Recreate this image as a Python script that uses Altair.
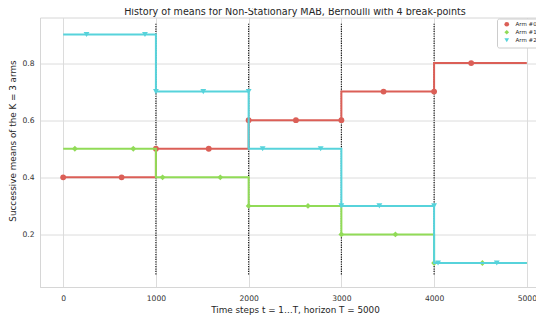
import altair as alt
import pandas as pd

# ---- data ----
arm_names = ["Arm #0", "Arm #1", "Arm #2"]
arm_colors = ["#db5f57", "#91db57", "#57d3db"]
arm_shapes = ["circle", "diamond", "triangle-down"]

step_starts = [0, 1000, 2000, 3000, 4000, 5000]
arm0_means = [0.4, 0.5, 0.6, 0.7, 0.8]
arm1_means = [0.5, 0.4, 0.3, 0.2, 0.1]
arm2_means = [0.9, 0.7, 0.5, 0.3, 0.1]

arm0_marker_t = [0, 630, 1000, 1570, 2000, 2510, 3000, 3455, 4000, 4400]
arm0_marker_mu = [0.4, 0.4, 0.5, 0.5, 0.6, 0.6, 0.6, 0.7, 0.7, 0.8]
arm1_marker_t = [126, 756, 1072, 1694, 2000, 2640, 3000, 3583, 4000, 4521]
arm1_marker_mu = [0.5, 0.5, 0.4, 0.4, 0.3, 0.3, 0.2, 0.2, 0.1, 0.1]
arm2_marker_t = [252, 882, 1000, 1511, 2000, 2151, 2777, 3000, 3410, 4000, 4043, 4676]
arm2_marker_mu = [0.9, 0.9, 0.7, 0.7, 0.7, 0.5, 0.5, 0.3, 0.3, 0.3, 0.1, 0.1]

break_points = [1000, 2000, 3000, 4000]
vline_ymin = 0.06
vline_ymax = 0.94

x_ticks = [0, 1000, 2000, 3000, 4000, 5000]
y_ticks = [0.2, 0.4, 0.6, 0.8]

# ---- build tables ----
all_means = [arm0_means, arm1_means, arm2_means]
all_marker_t = [arm0_marker_t, arm1_marker_t, arm2_marker_t]
all_marker_mu = [arm0_marker_mu, arm1_marker_mu, arm2_marker_mu]

x_scale = alt.Scale(domain=[-250, 5250], nice=False, zero=False)
y_scale = alt.Scale(domain=[0.016, 0.9595], nice=False, zero=False)

x_axis = alt.Axis(values=x_ticks, format="d",
                  title="Time steps t = 1…T, horizon T = 5000",
                  titleX=255, titleY=25, titleAlign="center",
                  titleBaseline="alphabetic")
y_axis = alt.Axis(values=y_ticks, format=".1f",
                  title="Successive means of the K = 3 arms",
                  titleX=-25, titleY=123, titleAngle=270,
                  titleAlign="center", titleBaseline="alphabetic")

vl_df = pd.DataFrame({"t": break_points,
                      "lo": [vline_ymin] * len(break_points),
                      "hi": [vline_ymax] * len(break_points)})
layers = [
    alt.Chart(vl_df).mark_rule(color="#000000", strokeWidth=1.1,
                               strokeDash=[1.2, 1.2]).encode(
        x=alt.X("t:Q", scale=x_scale, axis=x_axis),
        y=alt.Y("lo:Q", scale=y_scale, axis=y_axis),
        y2="hi:Q",
    )
]

color_scale = alt.Scale(domain=arm_names, range=arm_colors)
shape_scale = alt.Scale(domain=arm_names, range=arm_shapes)
legend = alt.Legend(title=None, orient="none", legendX=457, legendY=1)

for i, name in enumerate(arm_names):
    line_df = pd.DataFrame({"t": step_starts,
                            "mu": all_means[i] + [all_means[i][-1]]})
    layers.append(
        alt.Chart(line_df).mark_line(interpolate="step-after", strokeWidth=2).encode(
            x=alt.X("t:Q", scale=x_scale),
            y=alt.Y("mu:Q", scale=y_scale),
            color=alt.value(arm_colors[i]),
        )
    )
    pt_df = pd.DataFrame({"t": all_marker_t[i], "mu": all_marker_mu[i],
                          "arm": [name] * len(all_marker_t[i])})
    layers.append(
        alt.Chart(pt_df).mark_point(filled=True, size=34, opacity=1).encode(
            x=alt.X("t:Q", scale=x_scale),
            y=alt.Y("mu:Q", scale=y_scale),
            color=alt.Color("arm:N", scale=color_scale, legend=legend),
            shape=alt.Shape("arm:N", scale=shape_scale, legend=legend),
        )
    )

chart = alt.layer(*layers).properties(
    width=510,
    height=269.5,
    autosize=alt.AutoSizeParams(type="none"),
    padding={"left": 32, "top": 9.5, "right": -14, "bottom": 30},
    title=alt.TitleParams(
        "History of means for Non-Stationary MAB, Bernoulli with 4 break-points",
        fontSize=9.6, fontWeight="normal", anchor="middle", offset=2, dy=9.4,
        baseline="alphabetic", color="#262626", font="DejaVu Sans",
    ),
).configure_view(
    stroke="#d6d6d6", strokeWidth=1
).configure_axis(
    grid=True, gridColor="#dcdcdc", gridWidth=1,
    domainColor="#d6d6d6", domainWidth=1,
    ticks=False, tickSize=0,
    labelFont="DejaVu Sans", labelFontSize=7.6, labelColor="#333333",
    titleFont="DejaVu Sans", titleFontSize=8.8, titleFontWeight="normal",
    titleColor="#262626",
).configure_axisX(
    labelPadding=7
).configure_axisY(
    labelPadding=6
).configure_legend(
    padding=3, fillColor="white", strokeColor="#cccccc", cornerRadius=2,
    labelFont="DejaVu Sans", labelFontSize=5.5, labelColor="#262626",
    symbolSize=22, rowPadding=1, symbolOffset=4, labelOffset=6,
    symbolStrokeWidth=0,
)

chart.save("out.html", embed_options={"renderer": "svg", "actions": False})
